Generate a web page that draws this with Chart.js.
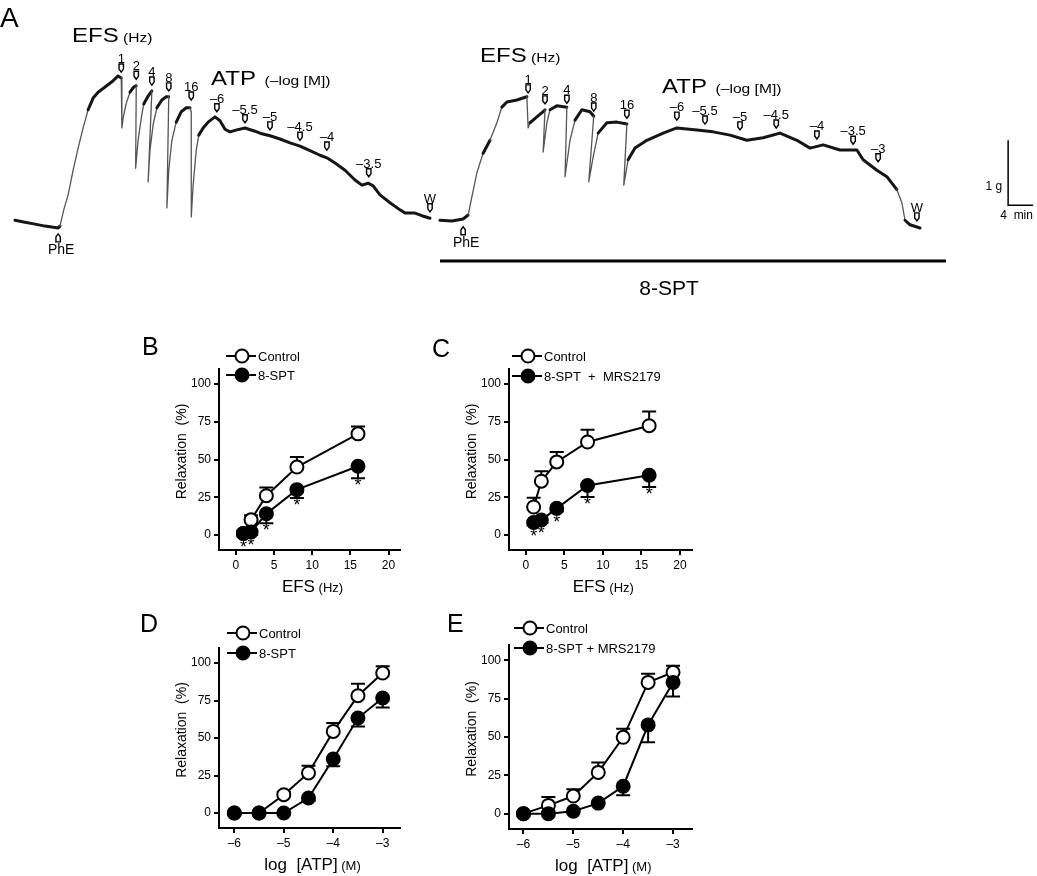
<!DOCTYPE html>
<html>
<head>
<meta charset="utf-8">
<script src="https://cdn.jsdelivr.net/npm/chart.js@4.4.0/dist/chart.umd.min.js"></script>
<style>
  body { margin: 0; background: #fff; }
  #page { position: relative; width: 1037px; height: 876px; overflow: hidden; background: #fff; }
  .box { position: absolute; }
</style>
</head>
<body>
<div id="page">
  <div class="box" style="left:0;top:0"><canvas id="traceA" width="1037" height="305"></canvas></div>
  <div class="box" style="left:140px;top:330px"><canvas id="chartB" width="270" height="280"></canvas></div>
  <div class="box" style="left:410px;top:330px"><canvas id="chartC" width="290" height="280"></canvas></div>
  <div class="box" style="left:140px;top:610px"><canvas id="chartD" width="270" height="266"></canvas></div>
  <div class="box" style="left:410px;top:610px"><canvas id="chartE" width="290" height="266"></canvas></div>
</div>
<script>
// ---- panel A: tension traces (time in min, tension in g) ----
const leftTraceMin = [0, 1.6, 3.2, 4.8, 6.9, 7.2, 7.8, 8.5, 9.3, 10.1, 10.9, 11.7, 12.5, 13.3, 14.4, 15.5, 16.5, 17.0,
  17.1, 17.3, 17.8, 18.4, 19.0, 19.4,
  19.3, 19.7, 20.2, 20.6, 21.3, 21.9,
  21.3, 21.6, 22.1, 22.7, 23.5, 24.2, 24.6,
  24.3, 24.6, 25.1, 25.8, 26.6, 27.4, 28.0, 28.2,
  28.2, 28.5, 29.0, 29.4, 30.1, 30.9, 32.0, 32.8, 33.6, 34.4, 35.5, 36.8, 38.4, 39.5, 40.8, 42.4, 44.0, 45.6,
  47.2, 48.8, 49.9, 51.2, 52.8, 54.4, 55.5, 56.5, 57.3, 58.4, 60.0, 61.6, 62.4, 64.0, 65.1, 66.4];
const leftTraceG = [0.15, 0.12, 0.09, 0.06, 0.03, 0.06, 0.31, 0.54, 0.92, 1.26, 1.57, 1.85, 2.03, 2.12, 2.20, 2.28, 2.37, 2.34,
  1.57, 1.72, 1.95, 2.12, 2.20, 2.22,
  0.95, 1.38, 1.72, 1.94, 2.06, 2.14,
  0.74, 1.23, 1.62, 1.88, 2.00, 2.05, 2.05,
  0.34, 0.92, 1.38, 1.66, 1.82, 1.88, 1.88, 1.82,
  0.20, 0.69, 1.23, 1.46, 1.57, 1.66, 1.74, 1.68, 1.55, 1.51, 1.54, 1.57, 1.52, 1.48, 1.45, 1.40, 1.34, 1.29,
  1.22, 1.15, 1.11, 1.03, 0.92, 0.77, 0.69, 0.72, 0.68, 0.54, 0.42, 0.31, 0.26, 0.26, 0.22, 0.18];

const rightTraceMin = [0, 1.9, 3.7, 4.5, 5.1, 5.9, 6.9, 8.0, 9.1, 9.9, 10.7, 12.3, 13.9,
  14.1, 14.4, 15.5, 16.5, 16.8,
  16.5, 17.1, 17.6, 18.7, 20.3,
  20.0, 20.8, 21.6, 22.7, 24.0, 24.6,
  23.8, 24.5, 25.3, 26.7, 28.3, 29.9,
  29.4, 30.1, 31.2, 33.1, 35.7, 37.9, 41.1, 43.7, 46.4, 49.1, 51.7, 54.4, 57.1, 59.2, 61.3, 64.0, 66.7,
  67.7, 69.9, 71.5, 73.1, 73.9, 74.4, 75.2, 76.8];
const rightTraceG = [0.15, 0.14, 0.17, 0.23, 0.51, 0.88, 1.18, 1.38, 1.65, 1.89, 1.97, 2.00, 2.05,
  1.57, 1.65, 1.74, 1.82, 1.85,
  1.20, 1.65, 1.85, 1.91, 1.89,
  0.82, 1.38, 1.69, 1.85, 1.82, 1.75,
  0.74, 1.12, 1.49, 1.65, 1.66, 1.63,
  0.69, 1.08, 1.26, 1.38, 1.49, 1.57, 1.54, 1.51, 1.46, 1.38, 1.42, 1.49, 1.38, 1.26, 1.31, 1.23, 1.23,
  1.08, 0.92, 0.82, 0.62, 0.42, 0.15, 0.08, 0.03];

// drug / stimulus marks on the traces
const efsLabels = ['1', '2', '4', '8', '16'];
const leftEfsMin = [17.0, 19.4, 21.9, 24.6, 28.2];
const leftEfsTip = [2.43, 2.32, 2.23, 2.14, 2.00];
const rightEfsMin = [14.1, 16.8, 20.3, 24.6, 29.9];
const rightEfsTip = [2.11, 1.94, 1.95, 1.83, 1.72];
const leftAtpLabels = ['–6', '–5.5', '–5', '–4.5', '–4', '–3.5'];
const leftAtpMin = [32.3, 36.8, 40.8, 45.6, 49.9, 56.6];
const leftAtpTip = [1.82, 1.65, 1.54, 1.38, 1.23, 0.82];
const rightAtpLabels = ['–6', '–5.5', '–5', '–4.5', '–4', '–3.5', '–3'];
const rightAtpMin = [37.9, 42.4, 48.0, 53.8, 60.3, 66.1, 70.1];
const rightAtpTip = [1.69, 1.63, 1.54, 1.57, 1.40, 1.32, 1.05];
const leftWash = [66.4, 0.28], rightWash = [76.3, 0.14];
const leftPhe = [6.9, -0.06], rightPhe = [3.7, 0.05];
const scaleBarG = 1, scaleBarMin = 4;

// ---- panels B-E: relaxation (%) ----
const efsHz = [1, 2, 4, 8, 16];
const efsTicks = [0, 5, 10, 15, 20];
const relaxTicks = [0, 25, 50, 75, 100];
const controlB = [1, 10, 26, 45, 67];
const controlSemB = [2, 3, 5.5, 6.6, 4.8];
const spt8B = [1, 2, 14, 30, 45.5];
const spt8SemB = [2, 2, 6.2, 5.5, 8];
const controlC = [18.5, 35.6, 48.4, 61.6, 72.4];
const controlSemC = [6.2, 6.6, 6.6, 8.1, 9.4];
const sptMrsC = [8.2, 9.9, 17.6, 32.8, 39.6];
const sptMrsSemC = [2, 2, 2, 7.7, 7.9];

const atpLog = [-6, -5.5, -5, -4.5, -4, -3.5, -3];
const atpTicks = [-6, -5, -4, -3];
const controlD = [0, 0, 12.2, 26.7, 54.4, 78.2, 93.3];
const controlSemD = [0, 0, 2, 4.8, 5.6, 8, 4.5];
const spt8D = [0, 0, 0, 10, 36, 63.3, 76.7];
const spt8SemD = [0, 0, 0, 2, 4.9, 5.6, 6.3];
const controlE = [0, 5.4, 11.5, 26.9, 49.8, 85.6, 92.2];
const controlSemE = [0, 5.5, 4.4, 6.5, 5.5, 5.7, 4.3];
const sptMrsE = [0, 0, 1.6, 6.9, 17.9, 57.9, 85.6];
const sptMrsSemE = [0, 0, 0, 0, 5.9, 11.4, 9.2];

const FONT = 'Arial, "Liberation Sans", Helvetica, sans-serif';

function richText(ctx, x, y, parts, align, sx) {
  sx = sx || 1;
  let total = 0;
  const widths = parts.map(p => { ctx.font = p[1] + 'px ' + FONT; const w = ctx.measureText(p[0]).width * sx; total += w; return w; });
  let cx = align === 'center' ? x - total / 2 : x;
  ctx.textAlign = 'left';
  ctx.textBaseline = 'alphabetic';
  parts.forEach((p, i) => {
    ctx.save();
    ctx.font = p[1] + 'px ' + FONT;
    ctx.translate(cx, y);
    ctx.scale(sx, 1);
    ctx.fillText(p[0], 0, 0);
    ctx.restore();
    cx += widths[i];
  });
}

function arrowMark(ctx, x, tip, up) {
  const d = up ? -1 : 1;
  ctx.beginPath();
  ctx.moveTo(x - 2.2, tip - d * 8);
  ctx.lineTo(x - 2.2, tip - d * 3);
  ctx.lineTo(x, tip);
  ctx.lineTo(x + 2.2, tip - d * 3);
  ctx.lineTo(x + 2.2, tip - d * 8);
  ctx.closePath();
  ctx.fillStyle = '#fff';
  ctx.fill();
  ctx.lineWidth = 1.4;
  ctx.strokeStyle = '#000';
  ctx.stroke();
}

// ---- panel A ----
(function () {
  const canvas = document.getElementById('traceA');
  const W = canvas.width, H = canvas.height;
  const pxPerMin = 6.25, pxPerG = 65, zeroY = 230;
  const steep = c => Math.abs(c.p1.y - c.p0.y) > 2.5 * Math.abs(c.p1.x - c.p0.x);
  const traceStyle = {
    showLine: true, pointRadius: 0, borderColor: '#151515', borderWidth: 3, tension: 0,
    borderJoinStyle: 'round', borderCapStyle: 'round',
    segment: { borderWidth: c => steep(c) ? 1.3 : 3, borderColor: c => steep(c) ? '#555' : '#151515' }
  };

  const marks = {
    id: 'marks',
    afterDraw(chart) {
      const ctx = chart.ctx, y = chart.scales.y;
      ctx.save();
      ctx.fillStyle = '#000';
      const drawSet = (xs, mins, tips, labels) => {
        mins.forEach((m, i) => {
          const px = xs.getPixelForValue(m), tip = y.getPixelForValue(tips[i]);
          arrowMark(ctx, px, tip, false);
          ctx.fillStyle = '#000';
          ctx.font = '13px ' + FONT;
          ctx.textAlign = 'center';
          ctx.textBaseline = 'alphabetic';
          ctx.fillText(labels[i], px, tip - 9);
        });
      };
      const xL = chart.scales.xL, xR = chart.scales.xR;
      drawSet(xL, leftEfsMin, leftEfsTip, efsLabels);
      drawSet(xL, leftAtpMin, leftAtpTip, leftAtpLabels);
      drawSet(xL, [leftWash[0]], [leftWash[1]], ['W']);
      drawSet(xR, rightEfsMin, rightEfsTip, efsLabels);
      drawSet(xR, rightAtpMin, rightAtpTip, rightAtpLabels);
      drawSet(xR, [rightWash[0]], [rightWash[1]], ['W']);
      [[xL, leftPhe], [xR, rightPhe]].forEach(([xs, p]) => {
        const px = xs.getPixelForValue(p[0]), tip = y.getPixelForValue(p[1]);
        arrowMark(ctx, px, tip, true);
        ctx.fillStyle = '#000';
        ctx.font = '14px ' + FONT;
        ctx.textAlign = 'center';
        ctx.fillText('PhE', px + 3, tip + 20);
      });

      // titles
      ctx.fillStyle = '#000';
      richText(ctx, 0, 27, [['A', 28]], 'left');
      richText(ctx, 72, 42, [['EFS', 20], [' (Hz)', 13]], 'left', 1.2);
      richText(ctx, 211, 85, [['ATP', 20], ['  (–log [M])', 13]], 'left', 1.2);
      richText(ctx, 480, 62, [['EFS', 20], [' (Hz)', 13]], 'left', 1.2);
      richText(ctx, 662, 93, [['ATP', 20], ['  (–log [M])', 13]], 'left', 1.2);

      // 8-SPT bar
      ctx.strokeStyle = '#000';
      ctx.lineWidth = 3;
      ctx.beginPath();
      ctx.moveTo(440, 261);
      ctx.lineTo(946, 261);
      ctx.stroke();
      richText(ctx, 669, 295, [['8-SPT', 21]], 'center');

      // scale bar (1 g, 4 min) drawn through the right trace's scales
      const bx = xR.getPixelForValue(90.9), by = y.getPixelForValue(0.38);
      const top = y.getPixelForValue(0.38 + scaleBarG), right = xR.getPixelForValue(90.9 + scaleBarMin);
      ctx.lineWidth = 1.5;
      ctx.beginPath();
      ctx.moveTo(bx, top);
      ctx.lineTo(bx, by);
      ctx.lineTo(right, by);
      ctx.stroke();
      ctx.font = '12px ' + FONT;
      ctx.textAlign = 'right';
      ctx.fillText('1 g', bx - 6, by - 15);
      ctx.textAlign = 'center';
      ctx.fillText('4  min', (bx + right) / 2 - 4, by + 14);
      ctx.restore();
    }
  };

  new Chart(canvas, {
    type: 'scatter',
    data: {
      datasets: [
        Object.assign({ label: 'Control', xAxisID: 'xL', yAxisID: 'y',
          data: leftTraceMin.map((t, i) => ({ x: t, y: leftTraceG[i] })) }, traceStyle),
        Object.assign({ label: '8-SPT', xAxisID: 'xR', yAxisID: 'y',
          data: rightTraceMin.map((t, i) => ({ x: t, y: rightTraceG[i] })) }, traceStyle)
      ]
    },
    options: {
      responsive: false,
      animation: false,
      events: [],
      layout: { padding: 0 },
      plugins: { legend: { display: false }, tooltip: { enabled: false } },
      scales: {
        xL: { type: 'linear', display: false, min: -15 / pxPerMin, max: (W - 15) / pxPerMin },
        xR: { type: 'linear', display: false, min: -440 / pxPerMin, max: (W - 440) / pxPerMin },
        y: { type: 'linear', display: false, min: (zeroY - H) / pxPerG, max: zeroY / pxPerG }
      }
    },
    plugins: [marks]
  });
})();

// ---- panels B-E ----
function curveChart(id, p) {
  const canvas = document.getElementById(id);
  const W = canvas.width, H = canvas.height;
  const a = p.area;

  const deco = {
    id: 'deco',
    beforeDatasetsDraw(chart) {
      const ctx = chart.ctx, xs = chart.scales.x, ys = chart.scales.y;
      ctx.save();
      ctx.strokeStyle = '#000';
      ctx.lineWidth = 2;
      p.series.forEach(s => {
        s.values.forEach((v, i) => {
          const e = s.sem[i];
          if (!e) return;
          const x = xs.getPixelForValue(p.x[i]);
          const y0 = ys.getPixelForValue(v), y1 = ys.getPixelForValue(v + s.dir * e);
          ctx.beginPath();
          ctx.moveTo(x, y0);
          ctx.lineTo(x, y1);
          ctx.moveTo(x - 7, y1);
          ctx.lineTo(x + 7, y1);
          ctx.stroke();
        });
      });
      ctx.restore();
    },
    afterDraw(chart) {
      const ctx = chart.ctx, xs = chart.scales.x, ys = chart.scales.y, ca = chart.chartArea;
      ctx.save();
      ctx.fillStyle = '#000';
      ctx.strokeStyle = '#000';

      // significance marks under the treated points
      p.series.forEach(s => {
        if (!s.sig) return;
        s.values.forEach((v, i) => {
          if (!s.sig[i]) return;
          const x = xs.getPixelForValue(p.x[i]);
          const yb = Math.max(ys.getPixelForValue(v) + 6.5, ys.getPixelForValue(v - (s.sem[i] || 0)));
          ctx.font = '18px ' + FONT;
          ctx.textAlign = 'center';
          ctx.textBaseline = 'top';
          ctx.fillText('*', x, yb - 1);
        });
      });

      // panel letter
      ctx.textBaseline = 'alphabetic';
      richText(ctx, p.letterAt[0], p.letterAt[1], [[p.letter, 25]], 'left');

      // legend
      p.series.forEach((s, k) => {
        const cx = p.legendAt[0], cy = p.legendAt[1] + k * p.legendGap;
        ctx.lineWidth = 2;
        ctx.beginPath();
        ctx.moveTo(cx - 16, cy);
        ctx.lineTo(cx + 14, cy);
        ctx.stroke();
        ctx.beginPath();
        ctx.arc(cx, cy, 6.5, 0, Math.PI * 2);
        ctx.fillStyle = s.filled ? '#000' : '#fff';
        ctx.fill();
        ctx.stroke();
        ctx.fillStyle = '#000';
        ctx.font = '13px ' + FONT;
        ctx.textAlign = 'left';
        ctx.textBaseline = 'middle';
        ctx.fillText(s.label, cx + 16, cy + 1);
      });

      // axis titles
      ctx.textBaseline = 'alphabetic';
      richText(ctx, (ca.left + ca.right) / 2 + 3, ca.bottom + 42, p.xTitle, 'center');
      ctx.save();
      ctx.translate(ca.left - 33, (ca.top + ca.bottom) / 2 - 8);
      ctx.rotate(-Math.PI / 2);
      ctx.font = '14px ' + FONT;
      ctx.textAlign = 'center';
      ctx.fillText('Relaxation  (%)', 0, 0);
      ctx.restore();
      ctx.restore();
    }
  };

  const tickFmt = v => (v < 0 ? '–' + (-v) : String(v));
  const axisBase = {
    type: 'linear',
    border: { display: true, color: '#000', width: 2 },
    grid: { display: true, drawOnChartArea: false, drawTicks: true, tickLength: 5, color: '#000', lineWidth: 2 },
    ticks: { color: '#000', font: { family: FONT, size: 12 }, padding: 3, maxRotation: 0, callback: tickFmt }
  };

  new Chart(canvas, {
    type: 'scatter',
    data: {
      datasets: p.series.map(s => ({
        label: s.label,
        data: p.x.map((x, i) => ({ x: x, y: s.values[i] })),
        showLine: true,
        borderColor: '#000',
        borderWidth: 2,
        pointRadius: 6.5,
        pointHoverRadius: 6.5,
        pointBorderWidth: 2,
        pointBorderColor: '#000',
        pointBackgroundColor: s.filled ? '#000' : '#fff',
        order: s.filled ? 0 : 1
      }))
    },
    options: {
      responsive: false,
      animation: false,
      events: [],
      layout: { padding: { left: 0, top: a.top, right: W - a.right, bottom: 0 } },
      plugins: { legend: { display: false }, tooltip: { enabled: false } },
      scales: {
        x: Object.assign({}, axisBase, {
          min: p.xRange[0], max: p.xRange[1],
          afterFit: s => { s.height = H - a.bottom; },
          afterBuildTicks: s => { s.ticks = p.xTicks.map(v => ({ value: v })); }
        }),
        y: Object.assign({}, axisBase, {
          min: -10, max: 110,
          afterFit: s => { s.width = a.left; },
          afterBuildTicks: s => { s.ticks = relaxTicks.map(v => ({ value: v })); }
        })
      }
    },
    plugins: [deco]
  });
}

curveChart('chartB', {
  letter: 'B', letterAt: [2, 25], legendAt: [102, 26], legendGap: 19,
  area: { left: 79, top: 39, right: 260, bottom: 220 },
  x: efsHz, xTicks: efsTicks, xRange: [-2.2, 21.5],
  xTitle: [['EFS', 17], [' (Hz)', 13]],
  series: [
    { label: 'Control', values: controlB, sem: controlSemB, dir: 1, filled: false },
    { label: '8-SPT', values: spt8B, sem: spt8SemB, dir: -1, filled: true, sig: [1, 1, 1, 1, 1] }
  ]
});
curveChart('chartC', {
  letter: 'C', letterAt: [22, 27], legendAt: [118, 26], legendGap: 20,
  area: { left: 99, top: 39, right: 283, bottom: 220 },
  x: efsHz, xTicks: efsTicks, xRange: [-2.2, 21.5],
  xTitle: [['EFS', 17], [' (Hz)', 13]],
  series: [
    { label: 'Control', values: controlC, sem: controlSemC, dir: 1, filled: false },
    { label: '8-SPT  +  MRS2179', values: sptMrsC, sem: sptMrsSemC, dir: -1, filled: true, sig: [1, 1, 1, 1, 1] }
  ]
});
curveChart('chartD', {
  letter: 'D', letterAt: [0, 22], legendAt: [103, 23], legendGap: 20,
  area: { left: 79, top: 38, right: 260, bottom: 218 },
  x: atpLog, xTicks: atpTicks, xRange: [-6.31, -2.65],
  xTitle: [['log  [ATP]', 17], [' (M)', 13]],
  series: [
    { label: 'Control', values: controlD, sem: controlSemD, dir: 1, filled: false },
    { label: '8-SPT', values: spt8D, sem: spt8SemD, dir: -1, filled: true }
  ]
});
curveChart('chartE', {
  letter: 'E', letterAt: [37, 22], legendAt: [120, 18], legendGap: 20,
  area: { left: 99, top: 35, right: 283, bottom: 219 },
  x: atpLog, xTicks: atpTicks, xRange: [-6.29, -2.63],
  xTitle: [['log  [ATP]', 17], [' (M)', 13]],
  series: [
    { label: 'Control', values: controlE, sem: controlSemE, dir: 1, filled: false },
    { label: '8-SPT + MRS2179', values: sptMrsE, sem: sptMrsSemE, dir: -1, filled: true }
  ]
});
</script>
</body>
</html>
